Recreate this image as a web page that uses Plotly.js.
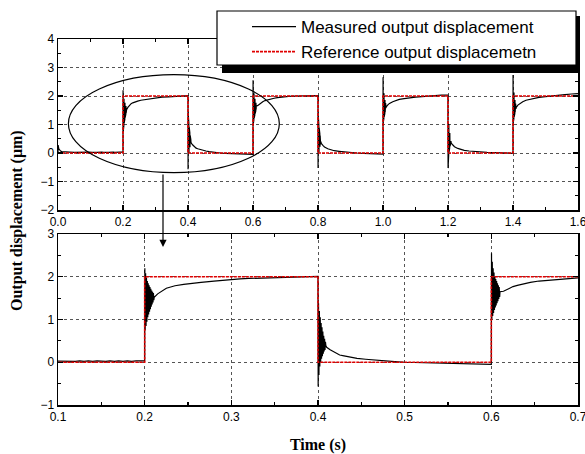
<!DOCTYPE html>
<html><head><meta charset="utf-8">
<script src="https://cdn.plot.ly/plotly-3.0.1.min.js"></script>
<style>html,body{margin:0;padding:0;background:#fff}#chart{width:585px;height:454px}</style>
</head><body><div id="chart"></div>
<script>
// ---- data: measured output displacement (um) vs time (s) ----
var t0 = [0, 0.0005, 0.0015, 0.003, 0.005, 0.008, 0.012, 0.018, 0.025, 0.035, 0.05, 0.065, 0.08, 0.095, 0.105, 0.11, 0.115, 0.12, 0.125, 0.13, 0.135, 0.14, 0.145, 0.15, 0.155, 0.16, 0.165, 0.17, 0.175, 0.18, 0.185, 0.19, 0.195, 0.1998];
var y0 = [0, 0.28, 0.2, 0.14, 0.1, 0.07, 0.05, 0.04, 0.03, 0.03, 0.02, 0.03, 0.02, 0.03, 0.02, 0.03, 0.02, 0.02, 0.03, 0.02, 0.03, 0.02, 0.03, 0.02, 0.02, 0.03, 0.02, 0.03, 0.02, 0.03, 0.02, 0.03, 0.03, 0.03];
var t1 = [0.2, 0.2002, 0.2006, 0.2011, 0.2016, 0.2021, 0.2026, 0.2031, 0.2036, 0.2041, 0.2046, 0.2051, 0.2056, 0.2061, 0.2066, 0.2071, 0.2076, 0.2081, 0.2086, 0.2091, 0.2096, 0.2101, 0.2106, 0.211, 0.215, 0.22, 0.225, 0.23, 0.235, 0.245, 0.255, 0.265, 0.28, 0.29, 0.3, 0.31, 0.32, 0.34, 0.36, 0.38, 0.3998];
var y1 = [0.03, 2.2, 0.75, 2.08, 0.85, 1.98, 0.95, 1.9, 1.05, 1.85, 1.12, 1.8, 1.18, 1.76, 1.24, 1.72, 1.3, 1.68, 1.35, 1.65, 1.4, 1.62, 1.45, 1.52, 1.6, 1.67, 1.73, 1.76, 1.79, 1.82, 1.85, 1.87, 1.9, 1.92, 1.94, 1.95, 1.96, 1.97, 1.99, 2.0, 2.01];
var t2 = [0.4, 0.4002, 0.4006, 0.4011, 0.4016, 0.4021, 0.4026, 0.4031, 0.4036, 0.4041, 0.4046, 0.4051, 0.4056, 0.4061, 0.4066, 0.4071, 0.4076, 0.4081, 0.4086, 0.409, 0.41, 0.414, 0.42, 0.425, 0.43, 0.437, 0.445, 0.455, 0.465, 0.475, 0.485, 0.5, 0.515, 0.53, 0.545, 0.56, 0.575, 0.59, 0.5998];
var y2 = [2.01, -0.57, 1.38, -0.3, 1.2, -0.1, 1.05, 0.0, 0.92, 0.08, 0.82, 0.14, 0.72, 0.2, 0.62, 0.25, 0.55, 0.29, 0.48, 0.4, 0.35, 0.29, 0.22, 0.17, 0.15, 0.12, 0.09, 0.07, 0.05, 0.03, 0.02, 0.0, -0.01, -0.02, -0.03, -0.04, -0.05, -0.05, -0.05];
var t3 = [0.6, 0.6002, 0.6006, 0.6011, 0.6016, 0.6021, 0.6026, 0.6031, 0.6036, 0.6041, 0.6046, 0.6051, 0.6056, 0.6061, 0.6066, 0.6071, 0.6076, 0.6081, 0.6086, 0.6091, 0.6096, 0.61, 0.614, 0.62, 0.625, 0.63, 0.637, 0.645, 0.655, 0.665, 0.675, 0.685, 0.695, 0.71, 0.73, 0.75, 0.77, 0.79, 0.7998];
var y3 = [-0.05, 2.55, 1.0, 2.35, 1.08, 2.2, 1.15, 2.1, 1.22, 2.0, 1.28, 1.95, 1.33, 1.9, 1.38, 1.85, 1.43, 1.8, 1.48, 1.76, 1.53, 1.65, 1.66, 1.72, 1.77, 1.8, 1.84, 1.87, 1.9, 1.92, 1.94, 1.96, 1.97, 1.99, 2.0, 2.0, 2.01, 2.01, 2.01];
var t4 = [0.8, 0.8002, 0.8006, 0.8011, 0.8016, 0.8021, 0.8026, 0.8031, 0.8036, 0.8041, 0.8046, 0.8051, 0.8056, 0.8061, 0.8066, 0.8071, 0.8076, 0.8081, 0.809, 0.81, 0.815, 0.82, 0.83, 0.84, 0.85, 0.865, 0.88, 0.9, 0.92, 0.94, 0.96, 0.98, 0.9998];
var y4 = [2.01, -0.53, 1.35, -0.28, 1.15, -0.08, 1.0, 0.02, 0.88, 0.1, 0.78, 0.16, 0.68, 0.22, 0.6, 0.26, 0.52, 0.3, 0.4, 0.34, 0.27, 0.21, 0.15, 0.11, 0.08, 0.06, 0.04, 0.02, 0.0, -0.01, -0.02, -0.03, -0.04];
var t5 = [1.0, 1.0002, 1.0006, 1.0011, 1.0016, 1.0021, 1.0026, 1.0031, 1.0036, 1.0041, 1.0046, 1.0051, 1.0056, 1.0061, 1.0066, 1.0071, 1.0076, 1.0081, 1.009, 1.01, 1.015, 1.02, 1.03, 1.04, 1.05, 1.065, 1.08, 1.1, 1.12, 1.14, 1.16, 1.18, 1.1998];
var y5 = [-0.04, 2.66, 1.05, 2.4, 1.12, 2.22, 1.2, 2.1, 1.27, 2.0, 1.33, 1.92, 1.38, 1.86, 1.43, 1.8, 1.48, 1.75, 1.58, 1.62, 1.69, 1.74, 1.8, 1.85, 1.88, 1.91, 1.94, 1.96, 1.98, 2.0, 2.02, 2.03, 2.03];
var t6 = [1.2, 1.2002, 1.2006, 1.2011, 1.2016, 1.2021, 1.2026, 1.2031, 1.2036, 1.2041, 1.2046, 1.2051, 1.2056, 1.2061, 1.2066, 1.2071, 1.2076, 1.2081, 1.209, 1.21, 1.215, 1.22, 1.23, 1.24, 1.25, 1.265, 1.28, 1.3, 1.32, 1.34, 1.36, 1.38, 1.3998];
var y6 = [2.03, -0.53, 1.4, -0.27, 1.18, -0.07, 1.02, 0.03, 0.9, 0.11, 0.8, 0.17, 0.7, 0.23, 0.62, 0.27, 0.54, 0.31, 0.42, 0.35, 0.28, 0.22, 0.16, 0.12, 0.09, 0.07, 0.05, 0.03, 0.02, 0.01, 0.0, 0.0, -0.01];
var t7 = [1.4, 1.4002, 1.4006, 1.4011, 1.4016, 1.4021, 1.4026, 1.4031, 1.4036, 1.4041, 1.4046, 1.4051, 1.4056, 1.4061, 1.4066, 1.4071, 1.4076, 1.4081, 1.409, 1.41, 1.415, 1.42, 1.43, 1.44, 1.45, 1.465, 1.48, 1.5, 1.52, 1.54, 1.56, 1.58, 1.6];
var y7 = [-0.01, 2.74, 1.05, 2.45, 1.12, 2.25, 1.2, 2.12, 1.27, 2.02, 1.33, 1.93, 1.38, 1.86, 1.43, 1.8, 1.47, 1.74, 1.55, 1.6, 1.68, 1.73, 1.8, 1.85, 1.88, 1.92, 1.95, 1.98, 2.01, 2.03, 2.05, 2.07, 2.08];
// reference (commanded) square wave
var refT = [0, 0.2, 0.2, 0.4, 0.4, 0.6, 0.6, 0.8, 0.8, 1.0, 1.0, 1.2, 1.2, 1.4, 1.4, 1.6];
var refY = [0, 0, 2, 2, 0, 0, 2, 2, 0, 0, 2, 2, 0, 0, 2, 2];
var seriesNames = ['Measured output displacement', 'Reference output displacemetn'];
// tick labels
var topXTicks = [0, 0.2, 0.4, 0.6, 0.8, 1.0, 1.2, 1.4, 1.6];
var topXLabels = ['0.0', '0.2', '0.4', '0.6', '0.8', '1.0', '1.2', '1.4', '1.6'];
var botXTicks = [0.1, 0.2, 0.3, 0.4, 0.5, 0.6, 0.7];
var botXLabels = ['0.1', '0.2', '0.3', '0.4', '0.5', '0.6', '0.7'];

var measT = [].concat(t0, t1, t2, t3, t4, t5, t6, t7);
var measY = [].concat(y0, y1, y2, y3, y4, y5, y6, y7);

var W = 585, H = 454, L = 58, R = 7, T = 39, B = 49;
var pw = W - L - R, ph = H - T - B;
function px(x) { return (x - L) / pw; }
function py(y) { return (H - B - y) / ph; }

var measLine = {color: '#000', width: 1.2};
var refLine = {color: '#e00000', width: 1.6, dash: '3px,1px'};
var traces = [
  {x: measT, y: measY, xaxis: 'x', yaxis: 'y', mode: 'lines', name: seriesNames[0], line: measLine},
  {x: refT, y: refY, xaxis: 'x', yaxis: 'y', mode: 'lines', name: seriesNames[1], line: refLine},
  {x: measT, y: measY, xaxis: 'x2', yaxis: 'y2', mode: 'lines', name: seriesNames[0], line: measLine, showlegend: false},
  {x: refT, y: refY, xaxis: 'x2', yaxis: 'y2', mode: 'lines', name: seriesNames[1], line: refLine, showlegend: false}
];

var tickFont = {family: 'Liberation Sans, Arial, sans-serif', size: 12, color: '#000'};
function ax(extra) {
  var a = {showline: true, linecolor: '#000', linewidth: 1.5, mirror: 'ticks', ticks: 'inside', ticklen: 5, tickwidth: 1.2, tickcolor: '#000',
    showgrid: true, gridcolor: '#555', griddash: 'dot', gridwidth: 1, zeroline: false, tickfont: tickFont, fixedrange: true,
    ticklabeloverflow: 'allow'};
  for (var k in extra) a[k] = extra[k];
  return a;
}
var topDom = [1 - 171 / ph, 1], botDom = [0, 171 / ph];

var layout = {
  width: W, height: H, margin: {l: L, r: R, t: T, b: B}, paper_bgcolor: '#fff', plot_bgcolor: '#fff',
  font: {family: 'Liberation Sans, Arial, sans-serif', color: '#000'},
  xaxis: ax({domain: [0, 1], anchor: 'y', range: [0, 1.6], tickmode: 'array', tickvals: topXTicks, ticktext: topXLabels,
    minor: {dtick: 0.1, tick0: 0, ticks: 'inside', ticklen: 3, tickcolor: '#000', showgrid: false}}),
  yaxis: ax({domain: topDom, anchor: 'x', range: [-2, 4], dtick: 1, tick0: 0, minor: {dtick: 0.5, ticks: 'inside', ticklen: 3, tickcolor: '#000', showgrid: false}}),
  xaxis2: ax({domain: [0, 1], anchor: 'y2', range: [0.1, 0.7], tickmode: 'array', tickvals: botXTicks, ticktext: botXLabels,
    minor: {dtick: 0.05, tick0: 0.1, ticks: 'inside', ticklen: 3, tickcolor: '#000', showgrid: false},
    title: {text: '<b>Time (s)</b>', font: {family: 'Liberation Serif, Times New Roman, serif', size: 16, color: '#000'}, standoff: 21}}),
  yaxis2: ax({domain: botDom, anchor: 'x2', range: [-1, 3], dtick: 1, tick0: 0, minor: {dtick: 0.5, ticks: 'inside', ticklen: 3, tickcolor: '#000', showgrid: false}}),
  showlegend: true,
  legend: {x: px(247), y: py(9), xanchor: 'left', yanchor: 'top', bgcolor: 'rgba(0,0,0,0)', borderwidth: 0,
    font: {family: 'Liberation Sans, Arial, sans-serif', size: 17, color: '#000'}, itemwidth: 44, tracegroupgap: 0},
  shapes: [
    {type: 'rect', xref: 'paper', yref: 'paper', x0: px(222), x1: px(580), y0: py(73), y1: py(16), fillcolor: '#000', line: {width: 0}, layer: 'above'},
    {type: 'rect', xref: 'paper', yref: 'paper', x0: px(217), x1: px(576), y0: py(65), y1: py(11), fillcolor: '#fff', line: {color: '#000', width: 1.2}, layer: 'above'},
    {type: 'circle', xref: 'x', yref: 'y', x0: 0.032, x1: 0.681, y0: -0.69, y1: 2.747, line: {color: '#000', width: 1.2}, layer: 'above'}
  ],
  annotations: [
    {xref: 'paper', yref: 'paper', x: px(17), y: py(221), text: '<b>Output displacement (\u03bcm)</b>', textangle: -90, showarrow: false,
      font: {family: 'Liberation Serif, Times New Roman, serif', size: 16, color: '#000'}, xanchor: 'center', yanchor: 'middle'},
    {xref: 'paper', yref: 'paper', x: px(163), y: py(247), text: '', showarrow: true, axref: 'pixel', ayref: 'pixel', ax: 0, ay: -74,
      arrowhead: 2, arrowsize: 1.2, arrowwidth: 1.2, arrowcolor: '#000', standoff: 0}
  ]
};
Plotly.newPlot('chart', traces, layout, {displayModeBar: false, staticPlot: true});
</script></body></html>
